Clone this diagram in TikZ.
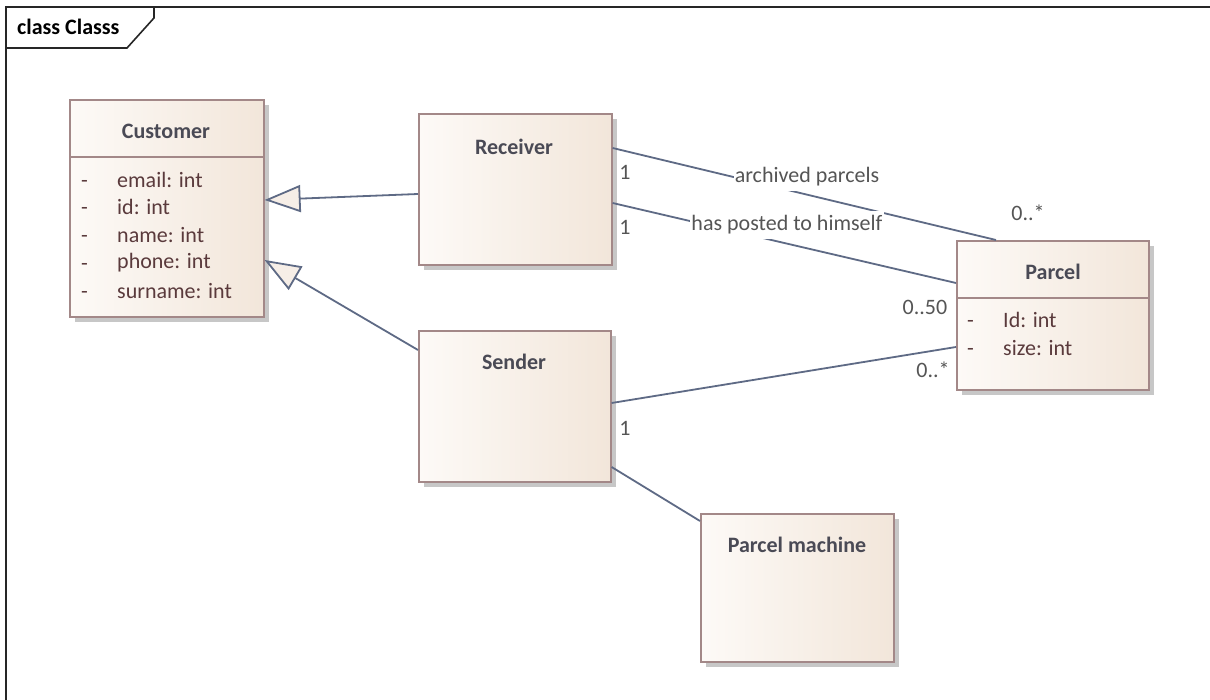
\documentclass[tikz,border=0pt]{standalone}
\usepackage{fontspec}
\setmainfont{Carlito}
\usetikzlibrary{arrows.meta,shadows}

\definecolor{boxL}{HTML}{FDFAF7}
\definecolor{boxR}{HTML}{F2E6DA}
\definecolor{boxEdge}{HTML}{A38888}
\definecolor{wire}{HTML}{5E6A85}
\definecolor{headTxt}{HTML}{4A4A55}
\definecolor{attrTxt}{HTML}{5A3A3C}
\definecolor{noteTxt}{HTML}{555555}
\definecolor{triFill}{HTML}{F6EEE7}

\tikzset{
  cls/.style={draw=boxEdge, line width=1.6pt, left color=boxL, right color=boxR,
    anchor=north west, inner sep=0pt,
    drop shadow={shadow xshift=5pt, shadow yshift=-5pt, fill=black!22, opacity=1}},
  divider/.style={draw=boxEdge, line width=1.6pt},
  ctitle/.style={font=\fontsize{22}{26}\selectfont\bfseries, text=headTxt, inner sep=0pt},
  attr/.style={font=\fontsize{22}{26}\selectfont, text=attrTxt, anchor=west, inner sep=0pt},
  vis/.style={attr, yshift=-4pt},
  wireline/.style={draw=wire, line width=1.8pt},
  gen/.style={wireline, -{Triangle[length=36pt, width=27pt, fill=triFill, line width=1.8pt]}},
  mult/.style={font=\fontsize{22}{26}\selectfont, text=noteTxt, inner sep=0pt},
  asslabel/.style={font=\fontsize{22}{26}\selectfont, text=noteTxt, fill=white, inner xsep=1pt, inner ysep=5pt},
  frameline/.style={draw=black!85, line width=1.6pt},
}

\begin{document}
\begin{tikzpicture}[x=1pt, y=-1pt]
\useasboundingbox (0,0) rectangle (1210,700);
\fill[white] (0,0) rectangle (1210,700);

% diagram frame with its name tab
\draw[frameline] (6,700) -- (6,7) -- (1210,7);
\draw[frameline] (6,48) -- (127,48) -- (154,18) -- (154,7);
\node[font=\fontsize{22}{26}\selectfont\bfseries, anchor=west, inner sep=0pt] (frameName) at (17,27) {class Classs};

% classes
\node[cls, minimum width=194pt, minimum height=217pt] (cust) at (69,99) {};
\node[cls, minimum width=193pt, minimum height=151pt] (rec) at (418,113) {};
\node[cls, minimum width=192pt, minimum height=151pt] (snd) at (418,330) {};
\node[cls, minimum width=192pt, minimum height=149pt] (par) at (956,240) {};
\node[cls, minimum width=193pt, minimum height=148pt] (pm) at (700,513) {};

% compartment dividers
\draw[divider] ([yshift=-58pt]cust.north west) -- ([yshift=-58pt]cust.north east);
\draw[divider] ([yshift=-58pt]par.north west) -- ([yshift=-58pt]par.north east);

% class names
\node[ctitle] (custT) at (166,131) {Customer};
\node[ctitle] (recT) at (514,147) {Receiver};
\node[ctitle] (sndT) at (514,362) {Sender};
\node[ctitle] (parT) at (1053,272) {Parcel};
\node[ctitle] (pmT) at (797,545) {Parcel machine};

% Customer attributes
\foreach \n/\t/\y in {a/email: int/180, b/id: int/207, c/name: int/235, d/phone: int/263, e/surname: int/291}{
  \node[vis] (custV\n) at (81,\y) {-};
  \node[attr] (custA\n) at (117,\y) {\t};
}
% Parcel attributes
\node[vis] (parVa) at (967,320) {-};
\node[attr] (parAa) at (1003,320) {Id: int};
\node[vis] (parVb) at (967,348) {-};
\node[attr] (parAb) at (1003,348) {size: int};

% generalizations
\draw[gen] ([yshift=-81pt]rec.north west) -- ([yshift=-101pt]cust.north east);
\draw[gen] ([yshift=-20pt]snd.north west) -- ([yshift=-161pt]cust.north east);

% associations
\draw[wireline] ([yshift=-35pt]rec.north east) -- ([xshift=40pt]par.north west);
\draw[wireline] ([yshift=-90pt]rec.north east) -- ([yshift=-43pt]par.north west);
\draw[wireline] ([yshift=-73pt]snd.north east) -- ([yshift=-107pt]par.north west);
\draw[wireline] ([yshift=-137pt]snd.north east) -- ([yshift=-8pt]pm.north west);

% association names
\node[asslabel] (lblArch) at (807,177) {archived parcels};
\node[asslabel] (lblSelf) at (787,225) {has posted to himself};

% multiplicities
\node[mult] (m1) at (625,172) {1};
\node[mult] (m2) at (625,227) {1};
\node[mult] (m3) at (625,428) {1};
\node[mult] (m4) at (1028,213) {0..*};
\node[mult] (m5) at (925,307) {0..50};
\node[mult] (m6) at (933,370) {0..*};
\end{tikzpicture}
\end{document}
